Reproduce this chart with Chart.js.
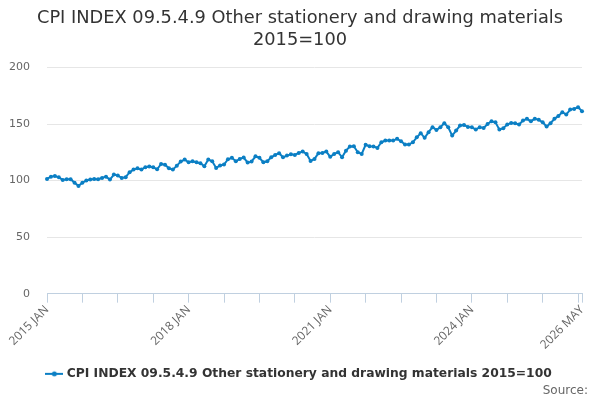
<!DOCTYPE html>
<html lang="en">
<head>
    <meta charset="UTF-8">
    <script src="https://cdn.jsdelivr.net/npm/chart.js"></script>
    <title>CPI INDEX 09.5.4.9</title>
    <style>
        body { margin: 0; background: #fff; }
        #caixa { width: 600px; height: 400px; }
    </style>
</head>
<body>
<div id="caixa">
    <canvas id="graficoCpi"></canvas>
</div>
<script>
    // meses e anos para os rotulos do eixo x
    var meses = ["JAN", "FEB", "MAR", "APR", "MAY", "JUN", "JUL", "AUG", "SEP", "OCT", "NOV", "DEC"]
    var anoInicio = 2015
    var totalMeses = 137

    // valores (jan 2015 ate mai 2026)
    var valores2015a2018 = [101.5, 103.5, 104.1, 102.9, 100.6, 101.2, 101.2, 98.2, 95.3, 98.2, 100, 100.9,
        101.5, 101.2, 102.4, 103.5, 100.9, 105.3, 104.4, 102.4, 103, 107.4, 109.7, 110.9,
        109.7, 111.8, 112.4, 111.8, 110, 114.7, 114.1, 110.9, 109.7, 113.2, 116.8, 118.6, 116.2]
    var valores2018a2021 = [117.1, 116.2, 115.3, 112.7, 118.6, 117.1, 111.2, 113.3, 114.2, 118.9, 120.1,
        117.1, 119.2, 120.4, 115.9, 116.8, 121.5, 120.1, 116.2, 117.1, 120.6, 122.7, 124.2,
        120.6, 122.1, 123.3, 122.7, 124.5, 125.7, 123.6, 117.4, 119.2, 124.2, 124.5, 125.7, 121]
    var valores2021a2024 = [123.6, 125.1, 120.6, 126.5, 130.1, 130.4, 125.1, 123.6, 131.6, 130.4, 130.1,
        128.9, 133.9, 135.4, 135.4, 135.4, 136.9, 134.8, 131.9, 131.9, 133.9, 138.3, 141.9,
        137.8, 142.8, 147.2, 144.8, 147.2, 150.7, 147.2, 139.8, 144.2, 148.7, 149.1, 147.5]
    var valores2024a2026 = [147.2, 145.1, 147.2, 146.6, 150.1, 152.5, 151.6, 145.1, 146.3, 149.6, 151,
        150.7, 149.6, 153.1, 154.6, 152.5, 154.6, 153.7, 151.6, 147.8, 150.7, 154.6, 157.2,
        160.5, 158.4, 162.8, 163.4, 164.9, 161.4]

    var tituloSerie = "CPI INDEX 09.5.4.9 Other stationery and drawing materials 2015=100"
    var fonte = "Source:"

    var rotulos = []
    for (var i = 0; i < totalMeses; i++) {
        rotulos.push((anoInicio + Math.floor(i / 12)) + " " + meses[i % 12])
    }
    var valores = valores2015a2018.concat(valores2018a2021, valores2021a2024, valores2024a2026)

    var azul = "#0b7fc4"

    // marcador da legenda: linha com bolinha no meio
    var marcador = document.createElement("canvas")
    marcador.width = 18
    marcador.height = 8
    var m = marcador.getContext("2d")
    m.strokeStyle = azul
    m.lineWidth = 2
    m.beginPath()
    m.moveTo(0, 4)
    m.lineTo(18, 4)
    m.stroke()
    m.fillStyle = azul
    m.beginPath()
    m.arc(9, 4, 2.5, 0, Math.PI * 2)
    m.fill()

    // escreve "Source:" no canto de baixo
    var textoFonte = {
        id: 'textoFonte',
        afterDraw: function (grafico) {
            var ctx = grafico.ctx
            ctx.save()
            ctx.font = "12px 'DejaVu Sans'"
            ctx.fillStyle = '#666666'
            ctx.textAlign = 'right'
            ctx.textBaseline = 'middle'
            ctx.fillText(fonte, grafico.width - 12, 391)
            ctx.restore()
        }
    }

    new Chart(graficoCpi, {
        type: 'line',
        data: {
            labels: rotulos,
            datasets: [{
                label: tituloSerie,
                data: valores,
                borderColor: azul,
                backgroundColor: azul,
                borderWidth: 2,
                pointStyle: 'circle',
                pointRadius: 2,
                pointBorderWidth: 0,
                pointHoverRadius: 3,
                tension: 0
            }]
        },
        plugins: [textoFonte],
        options: {
            responsive: true,
            maintainAspectRatio: false,
            animation: false,
            layout: {
                padding: { left: 4, right: 4, top: 8, bottom: 10 }
            },
            plugins: {
                title: {
                    display: true,
                    text: ["CPI INDEX 09.5.4.9 Other stationery and drawing materials", "2015=100"],
                    color: '#333333',
                    font: { family: 'DejaVu Sans', size: 17.8, weight: 'normal', lineHeight: 1.2 },
                    padding: { top: 0, bottom: 16.8 }
                },
                legend: {
                    position: 'bottom',
                    labels: {
                        usePointStyle: true,
                        pointStyle: marcador,
                        color: '#333333',
                        font: { family: 'DejaVu Sans', size: 12.3, weight: 'bold' },
                        padding: 0
                    }
                },
                tooltip: { enabled: false }
            },
            scales: {
                y: {
                    min: 0,
                    max: 200,
                    afterFit: function (eixo) {
                        eixo.width = 43
                    },
                    ticks: {
                        stepSize: 50,
                        color: '#666666',
                        font: { family: 'DejaVu Sans', size: 11 },
                        padding: 17
                    },
                    grid: {
                        color: '#e6e6e6',
                        drawTicks: false
                    },
                    border: { display: false }
                },
                // eixo vazio so para deixar o espaco da direita
                direita: {
                    position: 'right',
                    display: true,
                    afterFit: function (eixo) {
                        eixo.width = 14
                    },
                    ticks: { display: false },
                    grid: { display: false },
                    border: { display: false }
                },
                x: {
                    afterBuildTicks: function (eixo) {
                        // marca a cada 9 meses e no ultimo mes
                        eixo.ticks = eixo.ticks.filter(function (t) {
                            return t.value % 9 == 0 || t.value == totalMeses - 1
                        })
                    },
                    afterFit: function (eixo) {
                        // espaco extra entre os rotulos e a legenda
                        eixo.height += 15.5
                    },
                    ticks: {
                        autoSkip: false,
                        maxRotation: 45,
                        minRotation: 45,
                        color: '#666666',
                        font: { family: 'Open Sans', size: 12 },
                        padding: 0,
                        callback: function (valor) {
                            if (valor % 36 == 0 || valor == totalMeses - 1) {
                                return this.getLabelForValue(valor)
                            }
                            return ''
                        }
                    },
                    grid: {
                        display: true,
                        drawOnChartArea: false,
                        color: '#c0d0e0',
                        tickLength: 9
                    },
                    border: { display: true, color: '#c0d0e0' }
                }
            }
        }
    })
</script>
</body>
</html>
